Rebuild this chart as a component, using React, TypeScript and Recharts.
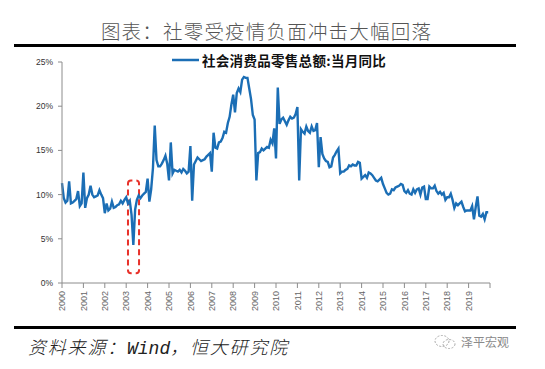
import { LineChart, Line, XAxis, YAxis, ReferenceArea } from "recharts";

// 社会消费品零售总额:当月同比 (%), monthly, 2000-01 .. 2019-12
const years = [2000, 2001, 2002, 2003, 2004, 2005, 2006, 2007, 2008, 2009, 2010, 2011, 2012, 2013, 2014, 2015, 2016, 2017, 2018, 2019];

const y2000 = [11.3, 9.6, 9.1, 9.3, 11.5, 9.0, 9.1, 9.3, 9.5, 10.4, 8.7, 9.0];
const y2001 = [12.5, 8.5, 9.6, 10.0, 11.0, 10.0, 9.7, 9.8, 9.9, 10.5, 10.0, 9.6];
const y2002 = [7.9, 9.0, 8.2, 8.4, 9.2, 8.5, 8.6, 8.8, 8.9, 9.3, 9.0, 9.4];
const y2003 = [9.7, 9.0, 9.3, 7.7, 4.3, 8.3, 9.4, 9.9, 9.6, 9.9, 10.1, 10.3];
const y2004 = [11.8, 9.2, 10.6, 13.0, 17.8, 13.9, 13.2, 13.2, 13.5, 13.9, 14.4, 13.5];
const y2005 = [11.6, 15.9, 12.4, 12.8, 12.7, 12.6, 12.8, 12.5, 12.9, 12.7, 12.4, 12.6];
const y2006 = [15.5, 9.3, 13.4, 13.8, 14.2, 14.0, 13.8, 13.9, 14.0, 14.3, 14.5, 14.7];
const y2007 = [12.6, 17.0, 15.3, 15.2, 15.9, 16.0, 16.4, 17.1, 17.0, 18.1, 18.8, 20.2];
const y2008 = [21.3, 19.3, 21.5, 22.0, 21.6, 23.0, 23.3, 23.2, 23.2, 22.0, 20.8, 19.0];
const y2009 = [18.5, 11.6, 14.7, 14.8, 15.2, 15.0, 15.2, 15.4, 15.3, 16.2, 15.8, 17.5];
const y2010 = [14.1, 22.1, 18.0, 18.5, 18.7, 18.3, 17.9, 18.4, 18.8, 18.6, 18.7, 19.1];
const y2011 = [19.9, 11.6, 17.4, 17.1, 16.9, 17.7, 17.2, 17.0, 17.7, 17.2, 17.3, 18.1];
const y2012 = [13.1, 16.5, 14.6, 14.1, 13.8, 13.7, 13.1, 13.2, 14.2, 14.5, 14.9, 15.2];
const y2013 = [12.4, 12.6, 12.6, 12.8, 12.9, 13.3, 13.2, 13.4, 13.3, 13.3, 13.7, 13.6];
const y2014 = [11.8, 12.0, 12.2, 11.9, 12.5, 12.4, 12.2, 11.9, 11.6, 11.5, 11.7, 11.9];
const y2015 = [11.2, 10.7, 10.2, 10.0, 10.1, 10.6, 10.5, 10.8, 10.9, 11.0, 11.2, 11.1];
const y2016 = [10.4, 10.2, 10.5, 10.1, 10.0, 10.6, 10.2, 10.6, 10.7, 10.0, 10.8, 10.9];
const y2017 = [9.5, 9.5, 10.9, 10.7, 10.7, 11.0, 10.4, 10.1, 10.3, 10.0, 10.2, 9.4];
const y2018 = [9.7, 9.7, 10.1, 9.4, 8.5, 9.0, 8.8, 9.0, 9.2, 8.6, 8.1, 8.2];
const y2019 = [8.2, 8.2, 8.7, 7.2, 8.6, 9.8, 7.6, 7.5, 7.8, 7.2, 8.0, 8.0];

const byYear = [y2000, y2001, y2002, y2003, y2004, y2005, y2006, y2007, y2008, y2009,
  y2010, y2011, y2012, y2013, y2014, y2015, y2016, y2017, y2018, y2019];

const yTicks = [0, 5, 10, 15, 20, 25];
// SARS box: month index range and % range
const sarsBox = { m1: 37, m2: 43.2, v1: 1.1, v2: 11.6 };

const data = byYear.flatMap((vals, yi) => vals.map((v, mi) => ({ t: yi * 12 + mi, v })));
const xTicks = [...years.map((_, i) => i * 12), years.length * 12];

const BLUE = "#1B6EB5";

function YearTick({ x, y, payload }: any) {
  const idx = payload.value / 12;
  if (idx >= years.length) return null;
  return (
    <text x={x} y={y + 1} transform={`rotate(-90, ${x}, ${y + 1})`} textAnchor="end" dy="0.35em"
      fontSize={9} fill="#666" fontFamily="Liberation Sans, Arial, sans-serif">
      {years[idx]}
    </text>
  );
}

export default function App() {
  return (
    <div style={{ position: "absolute", left: 0, top: 0, width: 545, height: 369, background: "#fff", overflow: "hidden" }}>
      <div style={{ position: "absolute", left: 0, width: 533, top: 17, textAlign: "center", fontFamily: "Noto Sans CJK SC", fontWeight: 300, fontSize: 19.5, letterSpacing: 1.2, color: "#555", lineHeight: "28px" }}>
        图表：社零受疫情负面冲击大幅回落
      </div>
      <div style={{ position: "absolute", left: 14, top: 43.5, width: 502, height: 3, background: "#000" }} />

      <div style={{ position: "absolute", left: 0, top: 0 }}>
        <LineChart width={545} height={369} data={data} margin={{ top: 62, right: 55, bottom: 56, left: 22 }}>
          <XAxis type="number" dataKey="t" domain={[0, years.length * 12]} ticks={xTicks} interval={0}
            tick={<YearTick />} tickSize={5} tickMargin={2} height={30}
            axisLine={{ stroke: "#8c8c8c" }} tickLine={{ stroke: "#8c8c8c" }} />
          <YAxis type="number" domain={[0, 25]} ticks={yTicks} interval={0} width={40}
            tickFormatter={(v: number) => `${v}%`} tickSize={4} tickMargin={5}
            tick={{ fontSize: 8.5, fill: "#333", fontFamily: "Liberation Sans, Arial, sans-serif" }}
            axisLine={{ stroke: "#8c8c8c" }} tickLine={{ stroke: "#8c8c8c" }} />
          <Line type="linear" dataKey="v" stroke={BLUE} strokeWidth={2.4} dot={false} isAnimationActive={false} />
          <ReferenceArea x1={sarsBox.m1} x2={sarsBox.m2} y1={sarsBox.v1} y2={sarsBox.v2}
            fill="none" fillOpacity={0} stroke="#E8312A" strokeWidth={2} strokeDasharray="6 4" radius={3} ifOverflow="visible" />
        </LineChart>
      </div>

      <div style={{ position: "absolute", top: 51, left: 172, display: "flex", alignItems: "center" }}>
        <svg width={28} height={6}>
          <line x1={0} y1={3} x2={27} y2={3} stroke={BLUE} strokeWidth={2.5} />
        </svg>
        <span style={{ fontFamily: "Noto Sans CJK SC", fontWeight: 700, fontSize: 13.5, color: "#111", marginLeft: 2, letterSpacing: 0.3, lineHeight: "18px" }}>
          社会消费品零售总额:当月同比
        </span>
      </div>

      <div style={{ position: "absolute", left: 14, top: 325.5, width: 502, height: 3, background: "#000" }} />
      <div style={{ position: "absolute", left: 28, top: 333, fontStyle: "italic", fontSize: 18, letterSpacing: 1.8, color: "#222", fontFamily: "Noto Sans CJK SC", fontWeight: 300, whiteSpace: "nowrap" }}>
        资料来源：<span style={{ fontFamily: "Liberation Mono, monospace", letterSpacing: 0 }}>Wind</span>，恒大研究院
      </div>
      <div style={{ position: "absolute", left: 433, top: 333, display: "flex", alignItems: "center" }}>
        <svg width={24} height={16}>
          <ellipse cx={9} cy={7} rx={7} ry={5.5} fill="none" stroke="#aaa" strokeWidth={1} strokeDasharray="2 1.5" />
          <ellipse cx={16} cy={10} rx={6} ry={4.5} fill="none" stroke="#aaa" strokeWidth={1} strokeDasharray="2 1.5" />
        </svg>
        <span style={{ fontFamily: "Noto Sans CJK SC", fontSize: 12, color: "#8a8a8a", marginLeft: 4 }}>泽平宏观</span>
      </div>
    </div>
  );
}
